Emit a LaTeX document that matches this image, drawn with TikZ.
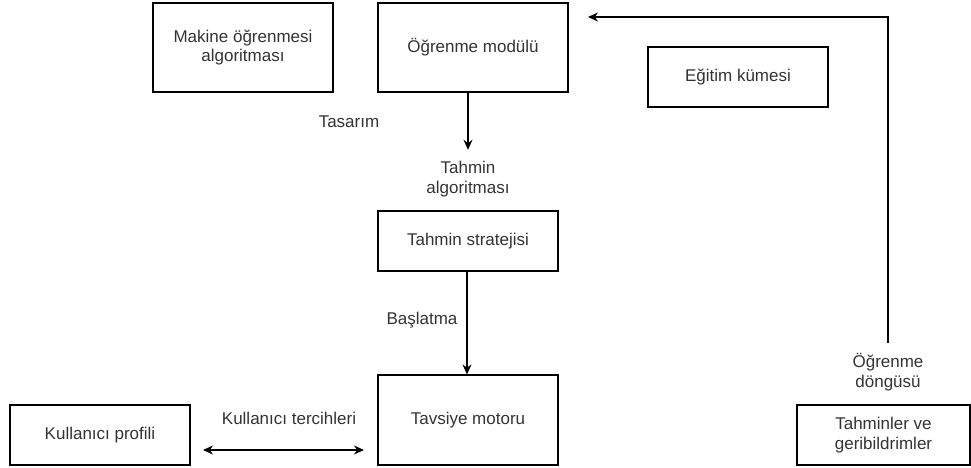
\documentclass[tikz,border=0pt]{standalone}
\usepackage{fontspec}
\setmainfont{Liberation Sans}
\usetikzlibrary{arrows.meta}
\definecolor{txtgray}{HTML}{333333}

\tikzset{
  box/.style={draw,line width=1.2pt,text=txtgray,align=center,
    minimum width=180,minimum height=60,inner sep=0pt},
  txt/.style={text=txtgray,align=center,minimum height=58,inner sep=0pt},
  lbl/.style={text=txtgray,inner sep=0pt},
  arr/.style={line width=1.2pt,-{Stealth[length=10pt,width=9pt]}},
}

\begin{document}
\begin{tikzpicture}[x=1pt,y=-1pt,font=\fontsize{17}{19.5}\selectfont]
      \useasboundingbox (0,0) rectangle (971,468);
      \node[box,minimum height=89] (malg) at (243,47.5) {Makine öğrenmesi\\algoritması};
      \node[box,minimum width=190,minimum height=89] (ogrm) at (473,47.5) {Öğrenme modülü};
      \node[box] (egit) at (738,77) {Eğitim kümesi};
      \node[txt] (talg) at (468,179) {Tahmin\\algoritması};
      \node[box] (strat) at (468,241) {Tahmin stratejisi};
      \node[box,minimum height=90] (motor) at (468,420) {Tavsiye motoru};
      \node[box] (prof) at (100,435) {Kullanıcı profili};
      \node[txt] (dongu) at (888,372) {Öğrenme\\döngüsü};
      \node[box,minimum width=173] (tahm) at (883.5,435) {Tahminler ve\\geribildrimler};
      \node[lbl] (tasarim) at (349,122) {Tasarım};
      \node[lbl] (baslat) at (422,320) {Başlatma};
      \node[lbl] (tercih) at (289,418) {Kullanıcı tercihleri};
      \coordinate (fb) at (588,17);
      \coordinate (pl) at (203,450);
      \coordinate (pr) at (364,450);
      \begin{scope}[arr]
        \draw ([xshift=-5pt]ogrm.south) -- (talg.north);
        \draw ([xshift=-1pt]strat.south) -- ([xshift=-1pt]motor.north);
        \draw (dongu.north) |- (fb);
        \draw[{Stealth[length=10pt,width=9pt]}-{Stealth[length=10pt,width=9pt]}] (pl) -- (pr);
      \end{scope}
    \end{tikzpicture}
\end{document}
